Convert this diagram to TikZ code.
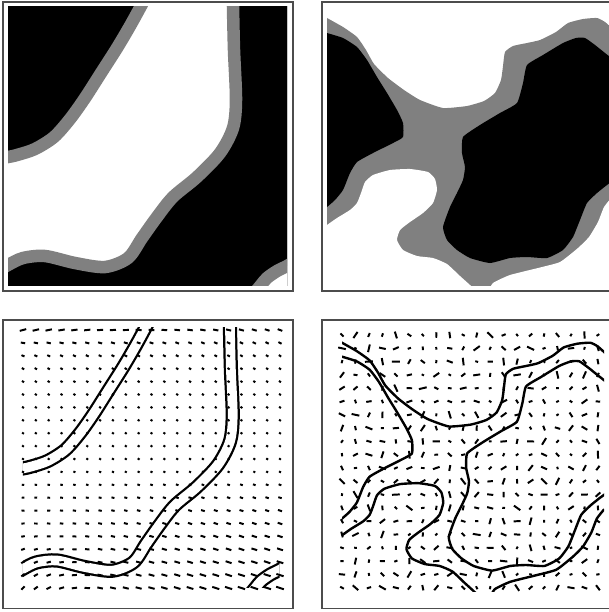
\documentclass[tikz,border=0pt]{standalone}
\usepackage{tikz}

% contorni (coordinate in pixel del pannello in alto)
\newcommand\bandA{plot[smooth] coordinates {(145,-2) (141,6) (130,26) (117,48) (101,73) (85,98) (70,119) (54,137) (35,149) (17,155) (8,157) (0,158)}}
\newcommand\bandB{plot[smooth] coordinates {(233,-2) (233,6) (234,50) (236,100) (233,128) (220,153) (197,177) (173,197) (157,217) (142,238) (128,258) (105,267) (75,263) (45,256) (23,258) (8,265) (0,270)}}
\newcommand\bandC{plot[smooth] coordinates {(252,296) (261,285) (267,278) (277,271) (287,266) (295,261)}}
\newcommand\rimtop{plot[smooth,tension=0.3] coordinates {(320,14) (327,18) (343,27) (357,37) (366,50) (374,64) (388,78) (404,90) (420,100) (443,108) (467,106) (484,101) (495,93) (501,80) (503,66) (505,52) (513,46) (527,43) (540,40) (556,32) (568,23) (583,19) (597,18) (605,22) (614,30)}}
\newcommand\rimleft{plot[smooth,tension=0.3] coordinates {(320,230) (327,225) (337,218) (350,210) (357,203) (361,193) (365,182) (373,175) (390,170) (410,169) (428,172) (435,179) (437,190) (433,203) (423,213) (410,222) (400,230) (397,240) (403,250) (417,256) (433,258) (447,264) (460,276) (470,285) (477,292)}}
\newcommand\rimright{plot[smooth,tension=0.3] coordinates {(488,292) (493,283) (510,275) (538,268) (560,262) (578,248) (589,237) (598,222) (604,207) (612,197)}}
\newcommand\blobleft{plot[smooth,tension=0.3] coordinates {(320,31) (327,33) (343,38) (357,47) (367,60) (377,77) (387,93) (397,110) (403,123) (403,137) (393,143) (373,153) (357,162) (350,173) (343,190) (335,200) (327,207) (320,212)}}
\newcommand\blobright{plot[smooth,tension=0.3] coordinates {(614,60) (605,53) (595,45) (585,38) (576,38) (563,43) (543,55) (527,65) (523,83) (517,103) (500,113) (480,125) (463,137) (462,153) (465,167) (463,180) (457,193) (450,207) (443,227) (447,240) (457,250) (470,258) (490,263) (510,258) (527,257) (547,258) (563,250) (573,237) (580,220) (587,203) (597,193) (607,185) (614,180)}}

\begin{document}
\begin{tikzpicture}[
    x=0.025cm, y=-0.025cm,
    frame/.style={draw=black!70, line width=0.8pt},
    band/.style={draw=gray, line width=8.9pt},
    twin/.style={draw=black, line width=1.6pt, double=white, double distance=6.9pt},
    edge/.style={draw=black, line width=1.7pt, line join=round},
    tick/.style={draw=black, line width=1.4pt}
]
  \useasboundingbox (0,0) rectangle (608,612);

  % in alto a sinistra
  \begin{scope}
    \clip (8,6) rectangle (287,285);
    \fill[black] (0,0) rectangle (300,300);
    \fill[white] \bandA -- (-10,310) -- (310,310) -- (310,-10) -- cycle;
    \fill[black] \bandB -- (-10,310) -- (310,310) -- (310,-10) -- cycle;
    \fill[white] \bandC -- (310,310) -- cycle;
    \draw[band] \bandA;
    \draw[band] \bandB;
    \draw[band] \bandC;
  \end{scope}

  % in alto a destra
  \begin{scope}
    \clip (327,6) rectangle (612,285);
    \fill[gray] \rimtop -- (620,300) -- (310,300) -- cycle;
    \fill[white] \rimleft -- (310,300) -- cycle;
    \fill[white] \rimright -- (620,300) -- cycle;
    \fill[black] \blobleft -- cycle;
    \fill[black] \blobright -- cycle;
  \end{scope}

  % in basso a sinistra: bordi
  \begin{scope}[shift={(15.6,322.4)}, xscale=0.92, yscale=0.93]
    \clip (8,6) rectangle (287,285);
    \draw[twin] \bandA;
    \draw[twin] \bandB;
    \draw[twin] \bandC;
  \end{scope}

  % in basso a sinistra: campo
  \foreach \i in {0,...,20}{
    \foreach \j in {0,...,20}{
      \pgfmathsetmacro\u{\i/20}
      \pgfmathsetmacro\v{\j/20}
      \pgfmathsetmacro\t{exp(-\v/0.07)}
      \pgfmathsetmacro\b{min(1,max(0,(\v-0.5)/0.12))}
      \pgfmathsetmacro\w{\t*(15-35*\u)+(1-\t)*((1-\b)*(-35)+\b*(-18+20*(1-\u)*(1-\u)*(1-\u)+45*max(0,(0.3-\u)/0.3)*max(0,(\v-0.75)/0.25)))}
      \pgfmathsetmacro\l{2.2+4.5*\t*(1-0.4*\u)+6*max(0,(\v-0.55)/0.45)*(0.4+0.6*\u)}
      \pgfmathsetmacro\aa{-\w}
      \pgfmathsetmacro\ab{180-\w}
      \pgfmathsetmacro\h{\l/2}
      \draw[tick] (23+12.85*\i,330+12.9*\j) ++(\aa:\h) -- ++(\ab:\l);
    }
  }

  % in basso a destra: bordi
  \begin{scope}[shift={(41.2,326)}, xscale=0.92, yscale=0.93]
    \clip (327,6) rectangle (612,285);
    \draw[edge] \rimtop;
    \draw[edge] \rimleft;
    \draw[edge] \rimright;
    \draw[edge] \blobleft;
    \draw[edge] \blobright;
  \end{scope}

  % in basso a destra: campo casuale
  \pgfmathsetseed{42}
  \foreach \i in {0,...,19}{
    \foreach \j in {0,...,19}{
      \pgfmathsetmacro\w{180*rnd}
      \pgfmathsetmacro\l{2.5+5.5*rnd}
      \pgfmathsetmacro\ab{180+\w}
      \pgfmathsetmacro\h{\l/2}
      \draw[tick] (342+13.47*\i,335+13.3*\j) ++(\w:\h) -- ++(\ab:\l);
    }
  }

  % riquadri
  \draw[frame] (3,2) rectangle (293,291);
  \draw[frame] (322,2) rectangle (612,291);
  \draw[frame] (3,320) rectangle (293,608.5);
  \draw[frame] (322,320) rectangle (612,608.5);

\end{tikzpicture}
\end{document}
